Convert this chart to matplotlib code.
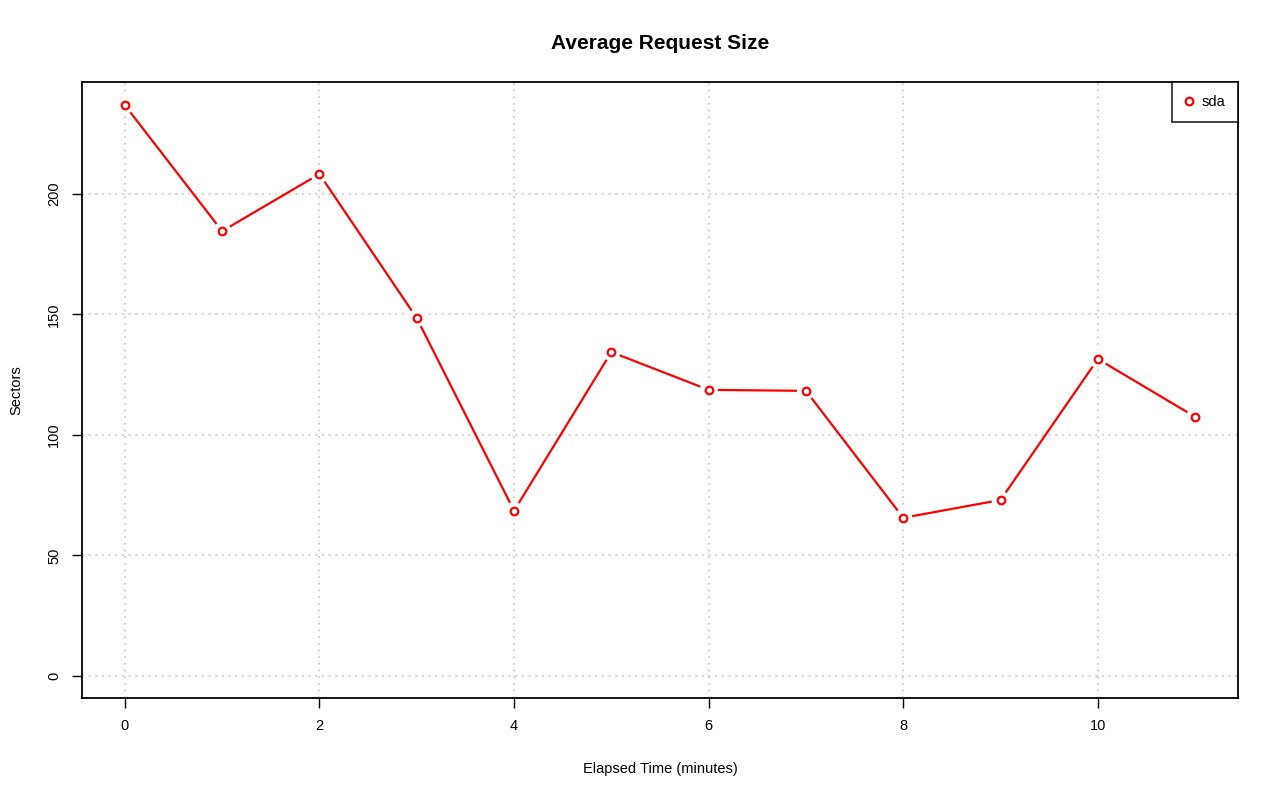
import numpy as np
import matplotlib
matplotlib.use("Agg")
import matplotlib.pyplot as plt

plt.rcParams['font.family'] = ['Liberation Sans', 'DejaVu Sans']

minutes = [0, 1, 2, 3, 4, 5, 6, 7, 8, 9, 10, 11]
sectors = [236.9, 184.6, 208.3, 148.5, 68.5, 134.4, 118.7, 118.3, 65.6, 73.0, 131.5, 107.5]
xticks = [0, 2, 4, 6, 8, 10]
yticks = [0, 50, 100, 150, 200]

fig = plt.figure(figsize=(12.8, 8.01), dpi=100)
ax = fig.add_axes([82 / 1280, 1 - 698 / 801, (1238 - 82) / 1280, (698 - 82) / 801])

# line with gaps around the points, like R's type="b"
ax.plot(minutes, sectors, color='red', lw=1.6, zorder=2)
ax.scatter(minutes, sectors, s=170, c='white', edgecolors='none', zorder=3)
ax.scatter(minutes, sectors, s=30, facecolors='white', edgecolors='red',
           linewidths=1.6, zorder=4)

ax.set_xlim(-0.44, 11.44)
ax.set_ylim(-9.2, 246.5)
ax.set_xticks(xticks)
ax.set_yticks(yticks)
ax.set_yticklabels([str(t) for t in yticks], rotation=90, va='center')
ax.grid(True, color='#c8c8c8', linestyle=(0, (1, 3)), linewidth=1.2)
ax.set_axisbelow(True)
ax.tick_params(direction='out', length=7, width=1, labelsize=10.5, pad=8)
for s in ax.spines.values():
    s.set_linewidth(1.3)

ax.set_title('Average Request Size', fontsize=15, fontweight='bold', pad=24)
ax.set_xlabel('Elapsed Time (minutes)', fontsize=10.5, labelpad=21)
ax.set_ylabel('Sectors', fontsize=10.5, labelpad=17)

leg = ax.legend([plt.Line2D([], [], marker='o', color='red', mfc='white', mew=1.6,
                            ms=5.5, ls='none')], ['sda'],
                loc='upper right', fontsize=10.5, frameon=True, fancybox=False,
                borderaxespad=0, handletextpad=0.6, borderpad=0.9, handlelength=0.5)
leg.get_frame().set_edgecolor('black')
leg.get_frame().set_linewidth(1.3)

fig.savefig('out.png', dpi=100)
